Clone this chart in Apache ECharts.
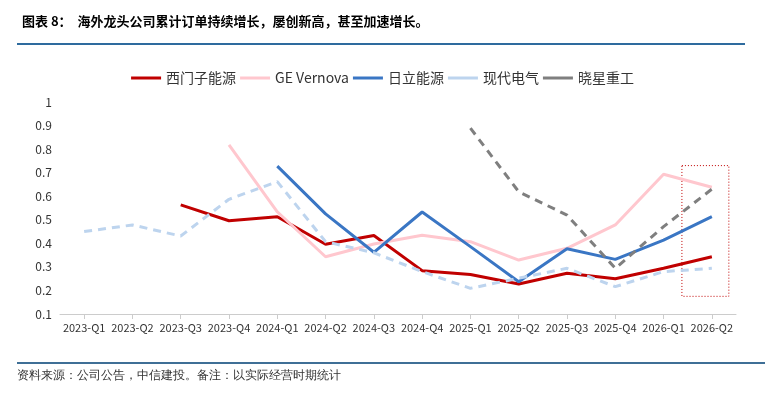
<!DOCTYPE html><html><head><meta charset="utf-8"><script src="https://cdn.jsdelivr.net/npm/echarts@6/dist/echarts.min.js"></script>
<style>body{margin:0}#c{width:765px;height:400px}</style></head><body><div id="c"></div><script>
const categories=['2023-Q1','2023-Q2','2023-Q3','2023-Q4','2024-Q1','2024-Q2','2024-Q3','2024-Q4','2025-Q1','2025-Q2','2025-Q3','2025-Q4','2026-Q1','2026-Q2'];
const siemens=[null,null,0.563,0.496,0.513,0.396,0.433,0.284,0.268,0.227,0.273,0.25,0.294,0.343];
const ge=[null,null,null,0.818,0.534,0.343,0.397,0.434,0.407,0.329,0.379,0.478,0.693,0.638];
const hitachi=[null,null,null,null,0.728,0.525,0.362,0.533,0.386,0.237,0.377,0.332,0.414,0.513];
const hyundai=[0.45,0.478,0.431,0.587,0.662,0.407,0.36,0.28,0.209,0.252,0.294,0.216,0.28,0.294];
const hyosung=[null,null,null,null,null,null,null,null,0.889,0.619,0.52,0.294,0.471,0.63];
const yTicks=[0.1,1];
const F='"Noto Sans CJK SC","Noto Sans",sans-serif';
const chart=echarts.init(document.getElementById('c'));
const mk=(name,data,color,type)=>({name,type:'line',data,symbol:'none',connectNulls:false,lineStyle:{color,width:3,type},itemStyle:{color}});
chart.setOption({
 animation:false,
 title:{text:'图表 8：  海外龙头公司累计订单持续增长，屡创新高，甚至加速增长。',left:17,top:10,textStyle:{fontFamily:F,fontSize:13,fontWeight:'bold',color:'#000'}},
 legend:{top:66,left:'center',itemWidth:30,itemHeight:3,itemGap:4,icon:'rect',textStyle:{fontFamily:F,fontSize:14,color:'#333'},
  data:['西门子能源','GE Vernova','日立能源','现代电气','晓星重工'].map(n=>({name:n,icon:'path://M0,0H30V3H0Z'}))},
 grid:{left:60,right:29,top:102,bottom:86},
 xAxis:{type:'category',data:categories,boundaryGap:true,axisTick:{show:true,alignWithLabel:true,lineStyle:{color:'#ccc'}},axisLine:{lineStyle:{color:'#ccc'}},axisLabel:{color:'#333',fontFamily:F,fontSize:11,interval:0}},
 yAxis:{type:'value',min:yTicks[0],max:yTicks[1],interval:0.1,splitLine:{show:false},axisLine:{show:false},axisLabel:{color:'#333',fontFamily:F,fontSize:12,formatter:v=>+v.toFixed(1)+''}},
 series:[mk('西门子能源',siemens,'#c00000','solid'),mk('GE Vernova',ge,'#ffc7ce','solid'),mk('日立能源',hitachi,'#3a76c4','solid'),
  mk('现代电气',hyundai,'#bdd4ee',[8,6]),mk('晓星重工',hyosung,'#7f7f7f',[8,6])],
 graphic:[
  {type:'line',shape:{x1:17,y1:44,x2:745,y2:44},style:{stroke:'#2e6b9e',lineWidth:2}},
  {type:'line',shape:{x1:17,y1:363,x2:765,y2:363},style:{stroke:'#3f6f96',lineWidth:2}},
  {type:'text',left:17,top:370,style:{text:'资料来源：公司公告，中信建投。备注：以实际经营时期统计',font:'italic 12px '+F,fill:'#333'}}
 ]
});
const p1=chart.convertToPixel({xAxisIndex:0,yAxisIndex:0},['2026-Q1',0.73]);
const p2=chart.convertToPixel({xAxisIndex:0,yAxisIndex:0},['2026-Q2',0.175]);
chart.setOption({graphic:[{},{},{},{type:'rect',shape:{x:p1[0]+(p2[0]-p1[0])*0.38,y:p1[1],width:(p2[0]-p1[0])*0.62+17,height:p2[1]-p1[1]},style:{fill:'none',stroke:'#c00000',lineWidth:1,lineDash:[1,2]}}]});
</script></body></html>
